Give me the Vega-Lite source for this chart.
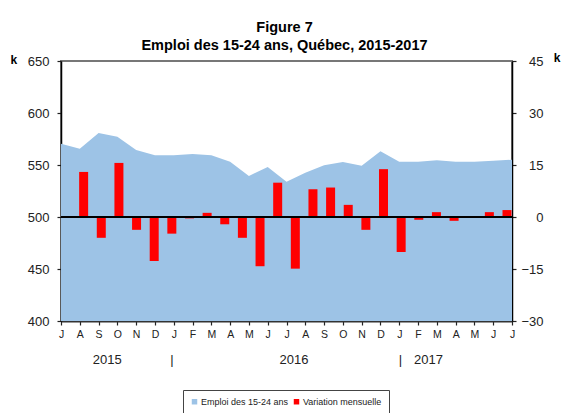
{
  "$schema": "https://vega.github.io/schema/vega-lite/v6.json",
  "width": 451,
  "height": 260,
  "autosize": {"type": "none"},
  "padding": {"left": 61, "top": 61, "right": 51, "bottom": 92},
  "background": "white",
  "config": {
    "font": "Liberation Sans",
    "view": {"stroke": "#777", "strokeWidth": 2},
    "axis": {"grid": false, "zindex": 1, "labelFont": "Liberation Sans", "titleFont": "Liberation Sans"}
  },
  "title": {
    "text": ["Figure 7", "Emploi des 15-24 ans, Québec, 2015-2017"],
    "font": "Liberation Sans",
    "fontSize": 14.5,
    "fontWeight": "bold",
    "color": "#000",
    "anchor": "middle",
    "frame": "group",
    "lineHeight": 18,
    "offset": 9,
    "dx": -2,
    "dy": 11
  },
  "data": {
    "values": [
      {"i": 0, "emploi": 570.5, "variation": 13.0},
      {"i": 1, "emploi": 565.7, "variation": -6.0},
      {"i": 2, "emploi": 580.8, "variation": 15.6},
      {"i": 3, "emploi": 577.2, "variation": -3.7},
      {"i": 4, "emploi": 564.4, "variation": -12.7},
      {"i": 5, "emploi": 559.3, "variation": -4.8},
      {"i": 6, "emploi": 559.3, "variation": -0.4},
      {"i": 7, "emploi": 560.6, "variation": 1.2},
      {"i": 8, "emploi": 559.3, "variation": -2.1},
      {"i": 9, "emploi": 553.2, "variation": -6.0},
      {"i": 10, "emploi": 539.4, "variation": -14.2},
      {"i": 11, "emploi": 548.1, "variation": 9.9},
      {"i": 12, "emploi": 533.9, "variation": -14.9},
      {"i": 13, "emploi": 542.6, "variation": 8.0},
      {"i": 14, "emploi": 549.7, "variation": 8.5},
      {"i": 15, "emploi": 552.9, "variation": 3.5},
      {"i": 16, "emploi": 549.3, "variation": -3.7},
      {"i": 17, "emploi": 563.2, "variation": 13.8},
      {"i": 18, "emploi": 553.2, "variation": -10.1},
      {"i": 19, "emploi": 553.2, "variation": -0.8},
      {"i": 20, "emploi": 554.5, "variation": 1.4},
      {"i": 21, "emploi": 553.2, "variation": -1.1},
      {"i": 22, "emploi": 553.2, "variation": -0.2},
      {"i": 23, "emploi": 554.1, "variation": 1.4},
      {"i": 24, "emploi": 555.1, "variation": 2.0}
    ]
  },
  "layer": [
    {
      "mark": {"type": "area", "interpolate": "linear", "opacity": 1, "clip": true},
      "encoding": {
        "x": {
          "field": "i",
          "type": "quantitative",
          "scale": {"domain": [0, 24], "nice": false, "zero": false},
          "axis": {
            "orient": "bottom",
            "title": null,
            "values": [0,1,2,3,4,5,6,7,8,9,10,11,12,13,14,15,16,17,18,19,20,21,22,23,24,2.43,5.88,12.37,18.04,19.53],
            "labelExpr": "datum.value == 2.43 ? '2015' : datum.value == 5.88 ? '|' : datum.value == 12.37 ? '2016' : datum.value == 18.04 ? '|' : datum.value == 19.53 ? '2017' : ['J','A','S','O','N','D','J','F','M','A','M','J','J','A','S','O','N','D','J','F','M','A','M','J','J'][datum.value]",
            "labelOverlap": false,
            "labelFlush": false,
            "labelAngle": 0,
            "labelColor": "#222",
            "labelFontSize": {"condition": {"test": "datum.value % 1 != 0", "value": 13}, "value": 10.5},
            "labelPadding": {"condition": {"test": "datum.value % 1 != 0", "value": 28}, "value": 4},
            "tickOpacity": {"condition": {"test": "datum.value % 1 != 0", "value": 0}, "value": 1},
            "tickSize": 4,
            "tickColor": "#222",
            "tickWidth": 1.2,
            "domainColor": "#333",
            "domainWidth": 2
          }
        },
        "y": {
          "field": "emploi",
          "type": "quantitative",
          "scale": {"domain": [400, 650], "nice": false, "zero": false},
          "axis": {
            "orient": "left",
            "values": [400, 450, 500, 550, 600, 650],
            "title": "k",
            "titleAngle": 0,
            "titleX": -47.7,
            "titleY": 2.5,
            "titleAlign": "center",
            "titleBaseline": "alphabetic",
            "titleFontWeight": "bold",
            "titleFontSize": 12,
            "titleColor": "#000",
            "labelFontSize": 13,
            "labelColor": "#222",
            "labelPadding": 8,
            "tickSize": 4,
            "tickColor": "#222",
            "tickWidth": 1.2,
            "domainColor": "#000",
            "domainWidth": 1.5
          }
        },
        "color": {
          "datum": "Emploi des 15-24 ans",
          "type": "nominal",
          "scale": {"domain": ["Emploi des 15-24 ans", "Variation mensuelle"], "range": ["#9DC3E6", "#FF0000"]},
          "legend": {
            "title": null,
            "orient": "none",
            "legendX": 122,
            "legendY": 329,
            "direction": "horizontal",
            "symbolType": "square",
            "symbolSize": 30,
            "symbolStrokeWidth": 0,
            "labelFontSize": 9,
            "labelFont": "Liberation Sans",
            "labelColor": "#222",
            "labelOffset": 2,
            "columnPadding": 3,
            "padding": 7,
            "strokeColor": "#444",
            "fillColor": "white"
          }
        }
      }
    },
    {
      "layer": [
        {
          "mark": {"type": "bar", "orient": "vertical", "size": 9, "clip": true},
          "encoding": {
            "x": {
              "field": "i",
              "type": "quantitative",
              "scale": {"domain": [-1, 24], "nice": false, "zero": false},
              "axis": null
            },
            "y": {
              "field": "variation",
              "type": "quantitative",
              "scale": {"domain": [-30, 45], "nice": false},
              "axis": {
                "orient": "right",
                "values": [-30, -15, 0, 15, 30, 45],
                "title": "k",
                "titleAngle": 0,
                "titleX": 44.7,
                "titleY": 0.5,
                "titleAlign": "center",
                "titleBaseline": "alphabetic",
                "titleFontWeight": "bold",
                "titleFontSize": 12,
                "titleColor": "#000",
                "labelFontSize": 13,
                "labelColor": "#222",
                "labelAlign": "right",
                "labelPadding": 27,
                "tickSize": 4,
                "tickColor": "#222",
                "tickWidth": 1.2,
                "domainColor": "#000",
                "domainWidth": 1.5
              }
            },
            "color": {"datum": "Variation mensuelle", "type": "nominal"}
          }
        },
        {
          "mark": {"type": "rule", "color": "#000", "strokeWidth": 1.3},
          "encoding": {"y": {"datum": 0}}
        }
      ]
    }
  ],
  "resolve": {"scale": {"x": "independent", "y": "independent"}}
}
